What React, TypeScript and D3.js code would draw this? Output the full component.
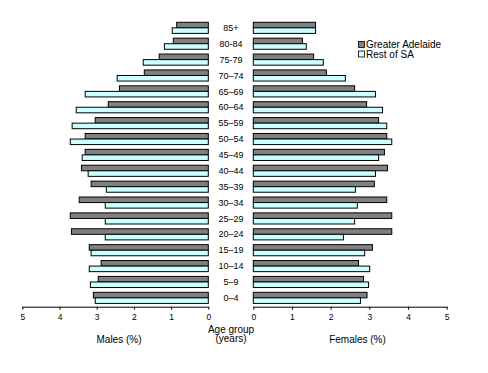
// App.tsx — population pyramid, Greater Adelaide vs Rest of SA
import * as d3 from "d3";
import { useEffect, useRef } from "react";

const ageGroups = [
  "85+", "80-84", "75-79", "70–74", "65–69", "60–64", "55–59", "50–54", "45–49",
  "40–44", "35–39", "30–34", "25–29", "20–24", "15–19", "10–14", "5–9", "0–4",
];

// percent of population, same order as ageGroups
const malesAdelaide = [0.85, 0.94, 1.32, 1.72, 2.39, 2.69, 3.04, 3.31, 3.31, 3.41, 3.15, 3.47, 3.71, 3.68, 3.2, 2.88, 2.96, 3.09];
const malesRest = [0.97, 1.18, 1.75, 2.45, 3.31, 3.55, 3.66, 3.71, 3.39, 3.23, 2.74, 2.77, 2.77, 2.77, 3.15, 3.2, 3.17, 3.04];
const femalesAdelaide = [1.61, 1.27, 1.56, 1.89, 2.62, 2.93, 3.24, 3.45, 3.39, 3.47, 3.13, 3.45, 3.58, 3.58, 3.08, 2.72, 2.85, 2.94];
const femalesRest = [1.61, 1.37, 1.81, 2.38, 3.16, 3.34, 3.45, 3.58, 3.24, 3.16, 2.64, 2.69, 2.62, 2.33, 2.88, 3.01, 2.98, 2.77];

const seriesNames = ["Greater Adelaide", "Rest of SA"];
const seriesColors = ["#808080", "#ccffff"];
const xTicks = [0, 1, 2, 3, 4, 5];

const width = 488;
const height = 373;
const font = "'Liberation Sans', Arial, sans-serif";

export default function App() {
  const svgRef = useRef<SVGSVGElement | null>(null);

  useEffect(() => {
    if (!svgRef.current) return;
    const svg = d3.select(svgRef.current);
    svg.selectAll("*").remove();

    const xLeft = d3.scaleLinear().domain([0, 5]).range([208.3, 22.3]);
    const xRight = d3.scaleLinear().domain([0, 5]).range([253.3, 446.7]);
    const y = d3
      .scaleBand<string>()
      .domain(ageGroups)
      .range([19.9, 305.8])
      .paddingInner(0.3)
      .paddingOuter(0.15);
    const bh = y.bandwidth() / 2;

    const drawSide = (
      scale: d3.ScaleLinear<number, number>,
      values: number[][],
      left: boolean
    ) => {
      values.forEach((vals, si) => {
        svg
          .append("g")
          .selectAll("rect")
          .data(vals)
          .enter()
          .append("rect")
          .attr("x", (d) => (left ? scale(d) : scale(0)))
          .attr("y", (_, i) => y(ageGroups[i])! + si * bh)
          .attr("width", (d) => Math.abs(scale(d) - scale(0)))
          .attr("height", bh)
          .attr("fill", seriesColors[si])
          .attr("stroke", "#000")
          .attr("stroke-width", 1);
      });

      const axis = svg
        .append("g")
        .attr("transform", "translate(0,306.7)")
        .call(d3.axisBottom(scale).tickValues(xTicks).tickSize(3).tickSizeOuter(0).tickFormat(d3.format("d")));
      axis.select(".domain").attr("stroke", "#000");
      axis.selectAll(".tick line").attr("stroke", "#000");
      axis
        .selectAll(".tick text")
        .attr("font-family", font)
        .attr("font-size", 8.5)
        .attr("fill", "#000")
        .attr("y", 7);
    };

    drawSide(xLeft, [malesAdelaide, malesRest], true);
    drawSide(xRight, [femalesAdelaide, femalesRest], false);

    // age labels in the middle
    svg
      .append("g")
      .selectAll("text")
      .data(ageGroups)
      .enter()
      .append("text")
      .attr("x", 231)
      .attr("y", (d) => y(d)! + y.bandwidth() / 2)
      .attr("dy", "0.35em")
      .attr("text-anchor", "middle")
      .attr("font-family", font)
      .attr("font-size", 9)
      .text((d) => d);

    const label = (x: number, yy: number, t: string) =>
      svg
        .append("text")
        .attr("x", x)
        .attr("y", yy)
        .attr("text-anchor", "middle")
        .attr("font-family", font)
        .attr("font-size", 10)
        .text(t);
    label(231, 332.5, "Age group");
    label(231, 342, "(years)");
    label(119, 342.5, "Males (%)");
    label(357.5, 342.5, "Females (%)");

    // legend
    const legend = svg.append("g").attr("transform", "translate(358.5,41.5)");
    seriesNames.forEach((name, i) => {
      legend
        .append("rect")
        .attr("x", 0)
        .attr("y", i * 9.5)
        .attr("width", 6)
        .attr("height", 6)
        .attr("fill", seriesColors[i])
        .attr("stroke", "#000")
        .attr("stroke-width", 0.8);
      legend
        .append("text")
        .attr("x", 7.5)
        .attr("y", i * 9.5 + 3)
        .attr("dy", "0.35em")
        .attr("font-family", font)
        .attr("font-size", 10)
        .text(name);
    });
  }, []);

  return (
    <svg
      ref={svgRef}
      width={width}
      height={height}
      style={{ position: "absolute", left: 0, top: 0, background: "#fff" }}
    />
  );
}
